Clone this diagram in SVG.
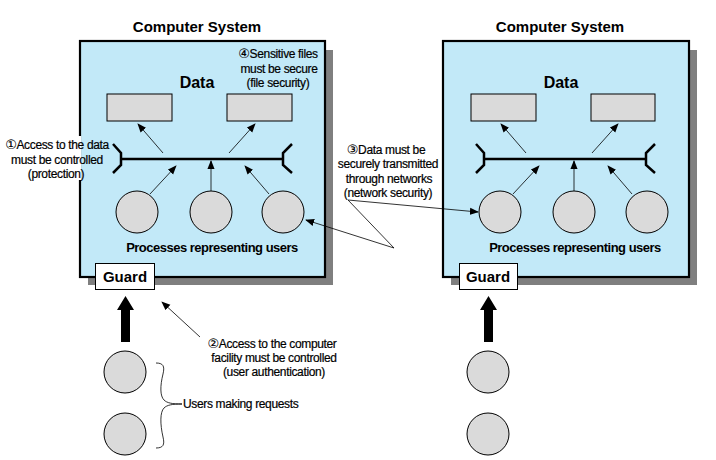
<svg xmlns="http://www.w3.org/2000/svg" width="716" height="460" viewBox="0 0 716 460">
<defs>
<style>
.title{font-family:"Liberation Sans",Arial,sans-serif;font-weight:bold;font-size:15px;fill:#000;text-anchor:middle}
.data{font-family:"Liberation Sans",Arial,sans-serif;font-weight:bold;font-size:16px;fill:#000;text-anchor:middle}
.proc{font-family:"Liberation Sans",Arial,sans-serif;font-weight:bold;font-size:13px;fill:#000;text-anchor:middle;letter-spacing:-0.5px}
.guard{font-family:"Liberation Sans",Arial,sans-serif;font-weight:bold;font-size:15px;fill:#000;text-anchor:middle}
.note{font-family:"Liberation Sans","DejaVu Sans",Arial,sans-serif;font-size:12px;fill:#000;stroke:#000;stroke-width:0.2;text-anchor:middle;letter-spacing:-0.35px}
.num{font-family:"DejaVu Sans",sans-serif;font-size:13px;stroke-width:0.1}
.box{fill:#C2E9F8;stroke:#000;stroke-width:2.2}
.shadow{fill:#7F7F7F}
.rect{fill:#DADADA;stroke:#000;stroke-width:1}
.circ{fill:#DADADA;stroke:#000;stroke-width:1}
.bus{fill:none;stroke:#000;stroke-width:2.5}
.thin{fill:none;stroke:#000;stroke-width:0.8}
.gbox{fill:#fff;stroke:#000;stroke-width:1}
</style>
<marker id="ah" viewBox="0 0 10 10" refX="9" refY="5" markerWidth="9" markerHeight="9" markerUnits="userSpaceOnUse" orient="auto">
<path d="M0,1 L10,5 L0,9 Z" fill="#000"/>
</marker>
</defs>

<g id="system-left">
<rect class="shadow" x="88" y="50" width="245" height="235"/>
<rect class="box" x="80" y="41" width="245" height="236"/>
<text class="title" x="197" y="32">Computer System</text>
<text class="data" x="197" y="88">Data</text>
<rect class="rect" x="107" y="94" width="65" height="27"/>
<rect class="rect" x="227" y="94" width="65" height="27"/>
<path class="bus" d="M113,144 L121,153 L121,165 L113,173 M121,159 L283,159 M292,144 L283,153 L283,165 L292,173"/>
<circle class="circ" cx="137" cy="212" r="21"/>
<circle class="circ" cx="211" cy="212" r="21"/>
<circle class="circ" cx="283" cy="212" r="21"/>
<text class="proc" x="212" y="252">Processes representing users</text>
</g>

<g id="system-right">
<rect class="shadow" x="451" y="50" width="246" height="235"/>
<rect class="box" x="443" y="41" width="246" height="236"/>
<text class="title" x="560" y="32">Computer System</text>
<text class="data" x="561" y="88">Data</text>
<rect class="rect" x="471" y="94" width="65" height="27"/>
<rect class="rect" x="591" y="94" width="64" height="27"/>
<path class="bus" d="M476,144 L484,153 L484,165 L476,173 M484,159 L646,159 M655,144 L646,153 L646,165 L655,173"/>
<circle class="circ" cx="500" cy="212" r="21"/>
<circle class="circ" cx="574" cy="212" r="21"/>
<circle class="circ" cx="647" cy="212" r="21"/>
<text class="proc" x="575" y="252">Processes representing users</text>
</g>

<g id="guard-left">
<rect class="gbox" x="95.5" y="263.5" width="59" height="26"/>
<text class="guard" x="125" y="282">Guard</text>
</g>
<g id="guard-right">
<rect class="gbox" x="459.5" y="263.5" width="58" height="26"/>
<text class="guard" x="488" y="282">Guard</text>
</g>

<g id="users-left">
<circle class="circ" cx="125" cy="372" r="21"/>
<circle class="circ" cx="125" cy="434" r="21"/>
</g>
<g id="users-right">
<circle class="circ" cx="488" cy="372" r="21"/>
<circle class="circ" cx="488" cy="434" r="21"/>
</g>

<g id="note-1">
<rect x="78" y="136" width="3.2" height="44" fill="#fff"/>
<text class="note" x="57" y="149"><tspan class="num">①</tspan>Access to the data</text>
<text class="note" x="57" y="164">must be controlled</text>
<text class="note" x="56" y="178">(protection)</text>
</g>
<g id="note-4">
<text class="note" x="278" y="58"><tspan class="num">④</tspan>Sensitive files</text>
<text class="note" x="279" y="73">must be secure</text>
<text class="note" x="278" y="87">(file security)</text>
</g>
<g id="note-3">
<text class="note" x="386" y="154"><tspan class="num">③</tspan>Data must be</text>
<text class="note" x="388" y="168">securely transmitted</text>
<text class="note" x="389" y="183">through networks</text>
<text class="note" x="388" y="197">(network security)</text>
</g>
<g id="note-2">
<text class="note" x="272" y="348"><tspan class="num">②</tspan>Access to the computer</text>
<text class="note" x="274" y="362">facility must be controlled</text>
<text class="note" x="274" y="376">(user authentication)</text>
</g>
<g id="users-label">
<text class="note" x="183" y="408" style="text-anchor:start">Users making requests</text>
</g>

<g id="connectors">
<line class="thin" x1="163" y1="153" x2="138" y2="124" marker-end="url(#ah)"/>
<line class="thin" x1="229" y1="153" x2="255" y2="124" marker-end="url(#ah)"/>
<line class="thin" x1="150" y1="194" x2="176" y2="166" marker-end="url(#ah)"/>
<line class="thin" x1="211" y1="191" x2="211" y2="161" marker-end="url(#ah)"/>
<line class="thin" x1="269" y1="194" x2="245" y2="166" marker-end="url(#ah)"/>
<line class="thin" x1="526" y1="153" x2="501" y2="124" marker-end="url(#ah)"/>
<line class="thin" x1="592" y1="153" x2="618" y2="124" marker-end="url(#ah)"/>
<line class="thin" x1="513" y1="194" x2="539" y2="166" marker-end="url(#ah)"/>
<line class="thin" x1="574" y1="191" x2="574" y2="161" marker-end="url(#ah)"/>
<line class="thin" x1="632" y1="194" x2="608" y2="166" marker-end="url(#ah)"/>
<line class="thin" x1="348" y1="200" x2="478" y2="212" marker-end="url(#ah)"/>
<line class="thin" x1="348" y1="200" x2="394" y2="248"/>
<line class="thin" x1="394" y1="248" x2="306" y2="220" marker-end="url(#ah)"/>
<line class="thin" x1="200" y1="337" x2="162" y2="302" marker-end="url(#ah)"/>
<path d="M121,342 L121,310 L117,310 L125.5,296 L134,310 L130,310 L130,342 Z" fill="#000"/>
<path d="M484,342 L484,310 L480,310 L488.5,296 L497,310 L493,310 L493,342 Z" fill="#000"/>
<path class="thin" d="M156,363 C163,363 165,366 163,374 C160,386 160,396 164,400 C167,403 172,404 182,404 C172,404 167,405 164,408 C160,412 160,424 163,437 C165,445 163,448 156,448"/>
</g>
</svg>
